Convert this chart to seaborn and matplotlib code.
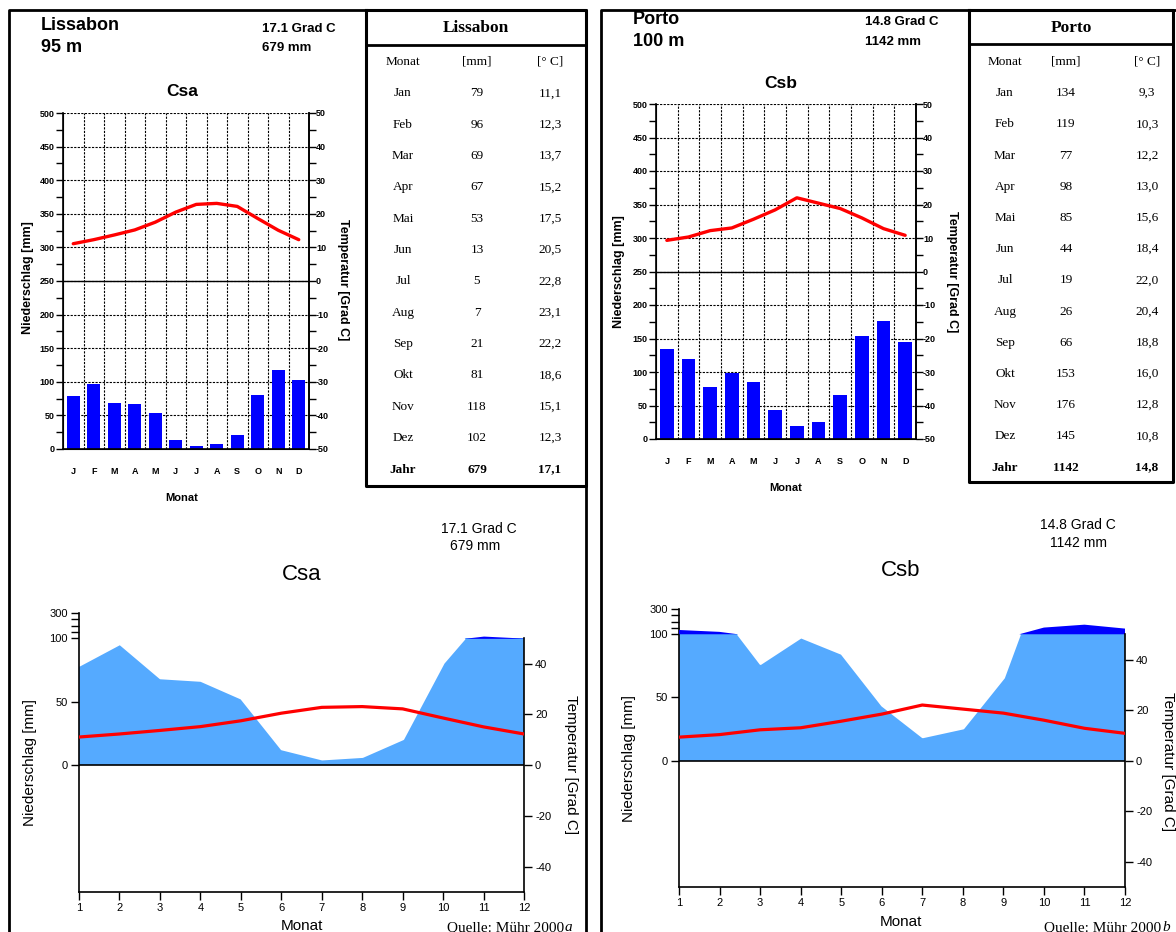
import numpy as np
import matplotlib
matplotlib.use("Agg")
import matplotlib.pyplot as plt
import seaborn as sns
from matplotlib.lines import Line2D

# ---------------- data ----------------
month_names = ["Jan", "Feb", "Mar", "Apr", "Mai", "Jun", "Jul", "Aug", "Sep", "Okt", "Nov", "Dez"]
month_letters = ["J", "F", "M", "A", "M", "J", "J", "A", "S", "O", "N", "D"]
month_numbers = list(range(1, 13))

lis_precip = [79, 96, 69, 67, 53, 13, 5, 7, 21, 81, 118, 102]
lis_temp = [11.1, 12.3, 13.7, 15.2, 17.5, 20.5, 22.8, 23.1, 22.2, 18.6, 15.1, 12.3]
lis_year = ["679", "17,1"]

por_precip = [134, 119, 77, 98, 85, 44, 19, 26, 66, 153, 176, 145]
por_temp = [9.3, 10.3, 12.2, 13.0, 15.6, 18.4, 22.0, 20.4, 18.8, 16.0, 12.8, 10.8]
por_year = ["1142", "14,8"]

# ---------------- style ----------------
sns.set_style("ticks", {"axes.edgecolor": "black", "text.color": "black",
                        "xtick.color": "black", "ytick.color": "black",
                        "axes.labelcolor": "black"})
plt.rcParams["font.family"] = ["Liberation Sans", "DejaVu Sans"]
plt.rcParams["axes.unicode_minus"] = False

W, H = 1176, 932
fig = plt.figure(figsize=(W / 100, H / 100), dpi=100)

BAR_BLUE = "#0000ff"
LIGHT_BLUE = "#55aaff"
RED = "#ff0000"


def rect(l, t, r, b):
    return [l / W, 1 - b / H, (r - l) / W, (b - t) / H]


def ftext(x, y, s, **kw):
    kw.setdefault("va", "center")
    fig.text(x / W, 1 - y / H, s, **kw)


def fline(xs, ys, lw=2.0):
    fig.add_artist(Line2D([x / W for x in xs], [1 - y / H for y in ys],
                          transform=fig.transFigure, color="black", lw=lw,
                          solid_capstyle="projecting"))


# ---------------- panel frames ----------------
fline([8.5, 8.5, 586, 586], [940, 10, 10, 940])
fline([601, 601, 1180], [940, 10, 10])


# ---------------- top climate charts ----------------
def top_chart(box, precip, temp):
    ax = fig.add_axes(rect(*box))
    sns.barplot(x=month_names, y=precip, ax=ax, color=BAR_BLUE, saturation=1,
                width=0.62, linewidth=0, zorder=2)
    ax.set_xlim(-0.5, 11.5)
    ax.set_ylim(0, 500)
    ax.set_yticks(range(0, 501, 50))
    ax.set_yticks(range(25, 500, 50), minor=True)
    ax.set_xticks(range(12))
    ax.set_xticklabels(month_letters)
    ax.set_xticks(np.arange(0.5, 11, 1), minor=True)
    ax.grid(which="minor", axis="x", color="black", ls=(0, (2, 1.2)), lw=0.8)
    ax.grid(which="major", axis="y", color="black", ls=(0, (2, 1.2)), lw=0.8)
    ax.set_axisbelow(True)
    ax.tick_params(axis="x", which="both", length=0, pad=13, labelsize=6.5)
    ax.tick_params(axis="y", which="both", length=5, width=1, labelsize=6.5, pad=1)
    for lab in ax.get_xticklabels() + ax.get_yticklabels():
        lab.set_fontweight("bold")
    ax.set_xlabel("")
    ax.set_ylabel("")
    ax.spines["top"].set_visible(False)
    for s in ["left", "right", "bottom"]:
        ax.spines[s].set_linewidth(1.2)

    ax2 = ax.twinx()
    sns.lineplot(x=np.arange(12), y=temp, ax=ax2, color=RED, lw=2.4, zorder=5)
    ax2.axhline(0, color="black", lw=1.0)
    ax2.set_ylim(-50, 50)
    ax2.set_xlim(-0.5, 11.5)
    ax2.set_yticks(range(-50, 51, 10))
    ax2.set_yticks(range(-45, 50, 10), minor=True)
    ax2.tick_params(axis="y", which="both", length=5, width=1, labelsize=6.5, pad=0)
    for lab in ax2.get_yticklabels():
        lab.set_fontweight("bold")
    ax2.set_ylabel("")
    ax2.spines["top"].set_visible(False)
    ax2.spines["right"].set_linewidth(1.2)
    return ax


top_chart((63, 113, 309, 449), lis_precip, lis_temp)
top_chart((656, 104, 916, 439), por_precip, por_temp)

hb = dict(fontweight="bold")
# Lissabon header
ftext(41, 26, "Lissabon", fontsize=13, **hb)
ftext(41, 47, "95 m", fontsize=13, **hb)
ftext(262, 29, "17.1 Grad C", fontsize=9.5, **hb)
ftext(262, 48, "679 mm", fontsize=9.5, **hb)
ftext(182, 92, "Csa", fontsize=12.5, ha="center", **hb)
ftext(28, 278, "Niederschlag [mm]", fontsize=9, rotation=90, ha="center", **hb)
ftext(343, 280, "Temperatur [Grad C]", fontsize=9, rotation=270, ha="center", **hb)
ftext(182, 498, "Monat", fontsize=8, ha="center", **hb)
# Porto header
ftext(633, 19, "Porto", fontsize=13, **hb)
ftext(633, 41, "100 m", fontsize=13, **hb)
ftext(865, 22, "14.8 Grad C", fontsize=9.5, **hb)
ftext(865, 42, "1142 mm", fontsize=9.5, **hb)
ftext(781, 84, "Csb", fontsize=12.5, ha="center", **hb)
ftext(619, 272, "Niederschlag [mm]", fontsize=9, rotation=90, ha="center", **hb)
ftext(952, 272, "Temperatur [Grad C]", fontsize=9, rotation=270, ha="center", **hb)
ftext(786, 488, "Monat", fontsize=8, ha="center", **hb)


# ---------------- tables ----------------
def table(box, header_y, title, cols, y0, dy, precip, temp, year):
    l, t, r, b = box
    fline([l, r, r, l, l], [t, t, b, b, t], lw=2.2)
    fline([l, r], [header_y, header_y], lw=2.0)
    serif = dict(family=["Liberation Serif", "DejaVu Serif"], ha="center")
    ftext((l + r) / 2, (t + header_y) / 2 + 1, title, fontsize=12.5, fontweight="bold", **serif)
    for x, s in zip(cols, ["Monat", "[mm]", "[° C]"]):
        ftext(x, y0, s, fontsize=9.5, **serif)
    for i, m in enumerate(month_names):
        y = y0 + dy * (i + 1)
        vals = [m, str(precip[i]), f"{temp[i]:.1f}".replace(".", ",")]
        for x, s in zip(cols, vals):
            ftext(x, y, s, fontsize=9.5, **serif)
    y = y0 + dy * 13
    for x, s in zip(cols, ["Jahr"] + year):
        ftext(x, y, s, fontsize=9.5, fontweight="bold", **serif)


table((366, 10, 586, 486), 45, "Lissabon", (403, 477, 550), 62, 31.35,
      lis_precip, lis_temp, lis_year)
table((969, 10, 1173, 482), 44, "Porto", (1005, 1066, 1147), 62, 31.2,
      por_precip, por_temp, por_year)


# ---------------- bottom Walter-Lieth style charts ----------------
def fwd(y):
    y = np.asarray(y, dtype=float)
    return np.where(y <= 100, y, 100 + (y - 100) / 10.0)


def inv(y):
    y = np.asarray(y, dtype=float)
    return np.where(y <= 100, y, 100 + (y - 100) * 10.0)


def bottom_chart(box, precip, temp):
    p = np.asarray(precip, dtype=float)
    x = np.asarray(month_numbers, dtype=float)
    ax = fig.add_axes(rect(*box))
    ax.set_yscale("function", functions=(fwd, inv))
    ax.fill_between(x, 0, 100, color=LIGHT_BLUE, lw=0, zorder=1)
    ax.fill_between(x, p, 100, where=p < 100, interpolate=True, facecolor="white",
                    edgecolor="white", lw=1.6, zorder=2)
    ax.fill_between(x, 100, p, where=p > 100, interpolate=True, color=BAR_BLUE, lw=0, zorder=3)
    ax.axhline(0, color="black", lw=1.2, zorder=4)
    ax.set_xlim(1, 12)
    ax.set_ylim(-100, 300)
    ax.set_xticks(month_numbers)
    ax.set_yticks([0, 50, 100, 300])
    ax.set_yticks([150, 200, 250], minor=True)
    ax.tick_params(axis="both", which="both", length=6, width=1, labelsize=8, pad=2)
    ax.spines["top"].set_visible(False)
    ax.spines["right"].set_visible(False)
    ax.spines["left"].set_linewidth(1.2)
    ax.spines["bottom"].set_linewidth(1.2)

    ax2 = ax.twinx()
    sns.lineplot(x=x, y=temp, ax=ax2, color=RED, lw=2.3, zorder=5)
    ax2.set_ylim(-50, 60)
    ax2.set_xlim(1, 12)
    ax2.set_yticks([-40, -20, 0, 20, 40])
    ax2.tick_params(axis="y", length=6, width=1, labelsize=8, pad=2)
    ax2.set_ylabel("")
    ax2.spines["top"].set_visible(False)
    ax2.spines["left"].set_visible(False)
    ax2.spines["bottom"].set_visible(False)
    ax2.spines["right"].set_bounds(-50, 50)
    ax2.spines["right"].set_linewidth(1.2)
    return ax


bottom_chart((79, 613, 524, 892), lis_precip, lis_temp)
bottom_chart((679, 609, 1125, 887), por_precip, por_temp)

serif_fam = ["Liberation Serif", "DejaVu Serif"]
# Lissabon bottom texts
ftext(479, 529, "17.1 Grad C", fontsize=10, ha="center")
ftext(475, 546, "679 mm", fontsize=10, ha="center")
ftext(302, 574, "Csa", fontsize=16, ha="center")
ftext(302, 926, "Monat", fontsize=11, ha="center")
ftext(30, 762, "Niederschlag [mm]", fontsize=11, rotation=90, ha="center")
ftext(571, 765, "Temperatur [Grad C]", fontsize=11, rotation=270, ha="center")
ftext(447, 921, "Quelle: Mühr 2000", fontsize=11, va="top", family=serif_fam)
ftext(565, 921, "a", fontsize=11, va="top", style="italic", family=serif_fam)
# Porto bottom texts
ftext(1078, 525, "14.8 Grad C", fontsize=10, ha="center")
ftext(1078, 543, "1142 mm", fontsize=10, ha="center")
ftext(901, 571, "Csb", fontsize=16, ha="center")
ftext(901, 922, "Monat", fontsize=11, ha="center")
ftext(629, 758, "Niederschlag [mm]", fontsize=11, rotation=90, ha="center")
ftext(1168, 762, "Temperatur [Grad C]", fontsize=11, rotation=270, ha="center")
ftext(1044, 921, "Quelle: Mühr 2000", fontsize=11, va="top", family=serif_fam)
ftext(1162, 921, "b", fontsize=11, va="top", style="italic", family=serif_fam)

fig.savefig("out.png", dpi=100)
